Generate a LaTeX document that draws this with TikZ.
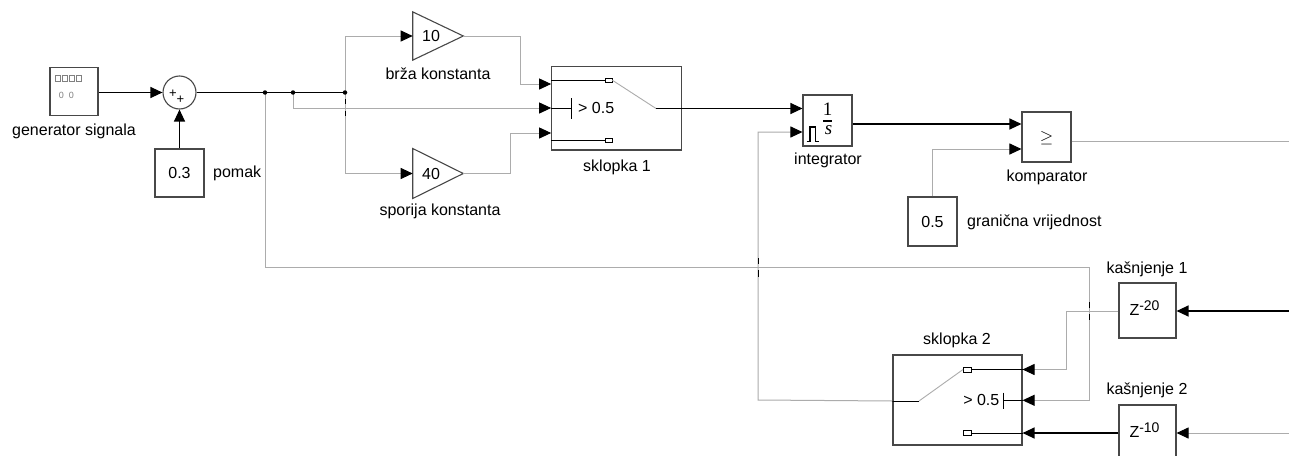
\documentclass[tikz,border=0pt]{standalone}
\usepackage{fontspec}
\setmainfont{Liberation Sans}
\newfontfamily\serifx{Liberation Serif}
\usetikzlibrary{arrows.meta,calc}
\definecolor{lgray}{RGB}{172,172,172}
\definecolor{bord}{RGB}{72,72,72}
\newcommand{\zexp}[1]{Z\raisebox{5pt}{\fontsize{14}{14}\selectfont #1}}
\begin{document}
\begin{tikzpicture}[x=1pt,y=-1pt,
  blk/.style={draw=bord,line width=1.1pt,fill=white,inner sep=0pt},
  ghost/.style={inner sep=0pt,outer sep=0pt},
  lbl/.style={font=\fontsize{16}{19}\selectfont,inner sep=0pt},
  bl/.style={line width=1.2pt,black},
  gl/.style={line width=1pt,lgray},
  arr/.style={-{Triangle[length=12pt,width=11pt,color=black]}},
  tickm/.style={line width=1pt,black},
  port/.style={draw=black,line width=0.9pt,fill=white},
  jdot/.style={circle,fill=black,inner sep=0pt,minimum size=4.5pt},
  icon/.style={font=\fontsize{9}{9}\selectfont,text=gray,inner sep=0pt}
]
\useasboundingbox (0,0) rectangle (1289,455);
\fill[white] (0,0) rectangle (1289,455);

% ---------- blocks ----------
\node[blk,minimum width=48pt,minimum height=48pt] (gen) at (74,91.5) {};
\foreach \xx in {55,62,69,76}{\draw[gray,line width=0.8pt] (\xx,75.5) rectangle ++(5,5.5);}
\node[icon] at (61.5,95) {0};
\node[icon] at (71.5,95) {0};

\node[blk,circle,minimum size=33pt] (sum) at (179.5,92.5) {};
\node[font=\fontsize{13}{13}\selectfont,inner sep=0pt] at (173,93.5) {+};
\node[font=\fontsize{13}{13}\selectfont,inner sep=0pt] at (180.5,100) {+};

\node[blk,minimum width=49pt,minimum height=48pt,lbl] (c03) at (179.5,173) {0.3};

\node[ghost,minimum width=50.6pt,minimum height=48.3pt] (g10) at (438,36) {};
\draw[bord,line width=1.1pt,fill=white] (g10.north west) -- (g10.east) -- (g10.south west) -- cycle;
\node[lbl] at (431,36) {10};
\node[ghost,minimum width=50.6pt,minimum height=50pt] (g40) at (438,173.5) {};
\draw[bord,line width=1.1pt,fill=white] (g40.north west) -- (g40.east) -- (g40.south west) -- cycle;
\node[lbl] at (431,173.5) {40};

\node[blk,minimum width=130pt,minimum height=83.3pt] (sw1) at (616.7,108.3) {};
\node[blk,minimum width=49pt,minimum height=51pt] (integ) at (827.5,120.5) {};
\node[blk,minimum width=49pt,minimum height=50pt] (comp) at (1046.5,137) {};
\node[blk,minimum width=49pt,minimum height=49pt,lbl] (c05) at (932.5,221.5) {0.5};
\node[blk,minimum width=129pt,minimum height=90pt] (sw2) at (957.5,400) {};
\node[blk,minimum width=57pt,minimum height=55pt] (d1) at (1147.5,310.5) {};
\node[blk,minimum width=57pt,minimum height=55pt] (d2) at (1147.5,432.5) {};

% ---------- block contents ----------
% integrator
\node[font=\serifx\fontsize{19}{19}\selectfont,inner sep=0pt] at (827.5,109.5) {1};
\draw[line width=1.6pt] (823,121) -- (832,121);
\node[font=\serifx\itshape\fontsize{19}{19}\selectfont,inner sep=0pt] at (828.5,130) {s};
\draw[line width=1.3pt] (806.5,141.7) -- (810,141.7) -- (810,127) -- (815.7,127) -- (815.7,141.7) -- (819,141.7);
% comparator
\node[font=\fontsize{18}{18}\selectfont,inner sep=0pt] at (1046.5,138) {$\geq$};
% delays
\node[lbl] at (1144.5,308.5) {\zexp{-20}};
\node[lbl] at (1144.5,430.5) {\zexp{-10}};

% sklopka 1 internals
\draw[bl,line width=1pt] (sw1.west |- 0,80) -- (605,80);
\draw[port] (605,78) rectangle (612,82);
\draw[gl,line width=0.9pt] (612,80) -- (656,108.5);
\draw[bl,line width=1pt] (656,108.5) -- (sw1.east |- 0,108.5);
\draw[bl,line width=1pt] (sw1.west |- 0,108) -- (571.7,108);
\draw[bl,line width=1pt] (571.7,98) -- (571.7,119);
\node[lbl,anchor=west] at (578,108) {> 0.5};
\draw[bl,line width=1pt] (sw1.west |- 0,140) -- (605,140);
\draw[port] (605,138) rectangle (612,142);

% sklopka 2 internals
\draw[port] (963,367) rectangle (971,372);
\draw[bl,line width=1pt] (971,369.5) -- (sw2.east |- 0,369.5);
\draw[gl,line width=0.9pt] (919,401) -- (963,369.5);
\draw[bl,line width=1pt] (sw2.west |- 0,401) -- (919,401);
\node[lbl,anchor=east] at (999.5,399.5) {> 0.5};
\draw[bl,line width=1pt] (1003.3,392.7) -- (1003.3,409.3);
\draw[bl,line width=1pt] (1003.3,400.3) -- (sw2.east |- 0,400.3);
\draw[port] (963,430.5) rectangle (971,435.5);
\draw[bl,line width=1pt] (971,433) -- (sw2.east |- 0,433);

% ---------- labels ----------
\node[lbl] at (74,131) {generator signala};
\node[lbl,anchor=west] at (213,173) {pomak};
\node[lbl] at (438,74) {brža konstanta};
\node[lbl] at (440,211) {sporija konstanta};
\node[lbl] at (617,167) {sklopka 1};
\node[lbl] at (828,160) {integrator};
\node[lbl] at (1047,177) {komparator};
\node[lbl,anchor=west] at (967,222) {granična vrijednost};
\node[lbl] at (1147,269) {kašnjenje 1};
\node[lbl] at (957,340) {sklopka 2};
\node[lbl] at (1147,390) {kašnjenje 2};

% ---------- junctions ----------
\coordinate (j1) at (265,92.5);
\coordinate (j2) at (293,92.5);
\coordinate (j3) at (345,92.5);
\coordinate (f1) at (1089,267);
\coordinate (f2) at (758,400);
\coordinate (k1) at (1066,311);
\coordinate (inD1) at (1289,311);
\coordinate (inD2) at (1289,433);
\coordinate (outC) at (1289,141);

% ---------- connectors ----------
\draw[bl,arr] (gen.east |- 0,92.5) -- (sum.west);
\draw[bl,arr] (c03.north) -- (sum.south);
\draw[bl] (sum.east) -- (j3);
\draw[gl,arr] (j2) -- (293,108) -- (sw1.west |- 0,108);
\draw[gl,arr] (j3) |- (g10.west);
\draw[gl,arr] (j3) |- (g40.west);
\draw[gl,arr] (g10.east) -| (520,84) -- (sw1.west |- 0,84);
\draw[gl,arr] (g40.east) -| (510,133) -- (sw1.west |- 0,133);
\draw[bl,arr] (sw1.east |- 0,108.5) -- (integ.west |- 0,108.5);
\draw[bl,arr,line width=1.1pt] (integ.east |- 0,124) -- (comp.west |- 0,124);
\draw[gl,arr] (c05.north) |- (comp.west |- 0,149);
\draw[gl] (comp.east |- 0,141) -- (outC);
\draw[gl] (j1) -- (265,267) -- (f1);
\draw[gl,arr] (f1) -- (1089,400.3) -- (sw2.east |- 0,400.3);
\draw[bl,arr] (inD1) -- (d1.east |- 0,311);
\draw[gl] (d1.west |- 0,311) -- (k1);
\draw[gl,arr] (k1) -- (1066,369.5) -- (sw2.east |- 0,369.5);
\draw[gl,arr] (inD2) -- (d2.east |- 0,433);
\draw[bl,arr] (d2.west |- 0,433) -- (sw2.east |- 0,433);
\draw[gl,arr] (sw2.west |- 0,401) -- (f2) -- (758,132) -- (integ.west |- 0,132);

% crossing ticks
\draw[tickm] (345,99) -- (345,104) (345,111) -- (345,116);
\draw[tickm] (758,258) -- (758,264) (758,270) -- (758,277);
\draw[tickm] (1089,302) -- (1089,308) (1089,314) -- (1089,320);

\node[jdot] at (j1) {};
\node[jdot] at (j2) {};
\node[jdot] at (j3) {};
\end{tikzpicture}
\end{document}
